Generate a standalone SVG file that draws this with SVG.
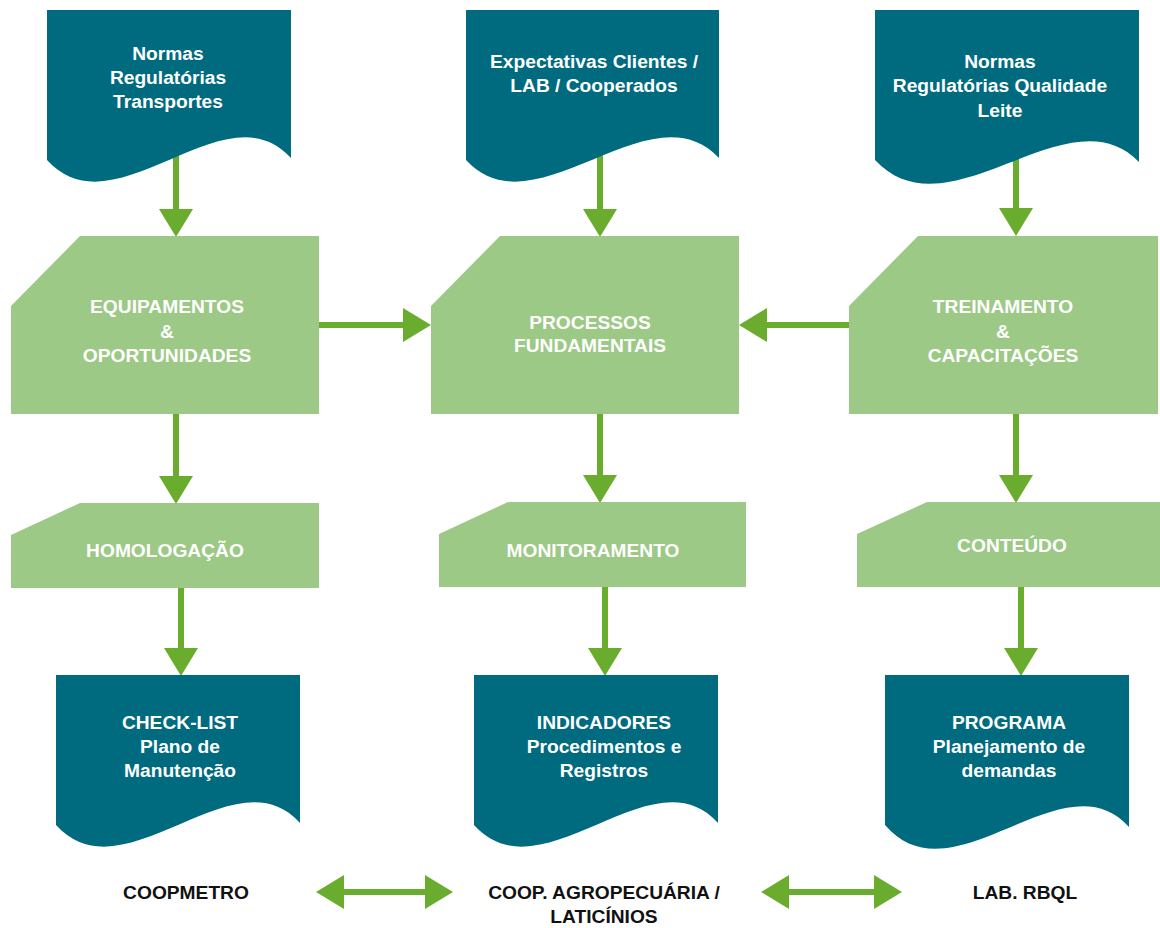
<svg xmlns="http://www.w3.org/2000/svg" width="1160" height="928" viewBox="0 0 1160 928">
  <style>
    .doc { fill: #006a7f; }
    .card { fill: #9cc985; }
    .stem { stroke: #6aad2e; stroke-width: 6; fill: none; }
    .lbl { font-family: "Liberation Sans", Arial, sans-serif; font-weight: bold; font-size: 19.2px; fill: #ffffff; text-anchor: middle; }
    .foot { font-family: "Liberation Sans", Arial, sans-serif; font-weight: bold; font-size: 19.2px; fill: #111111; text-anchor: middle; }
  </style>
  <defs>
    <marker id="head" markerUnits="userSpaceOnUse" markerWidth="28" markerHeight="34" refX="0" refY="17" orient="auto-start-reverse" viewBox="0 0 28 34">
      <path d="M0,0 L28,17 L0,34 Z" fill="#6aad2e"/>
    </marker>
  </defs>

  <rect width="1160" height="928" fill="#ffffff"/>

  <!-- connectors -->
  <g id="connectors">
    <line class="stem" x1="176" y1="140" x2="176" y2="209" marker-end="url(#head)"/>
    <line class="stem" x1="600" y1="140" x2="600" y2="209" marker-end="url(#head)"/>
    <line class="stem" x1="1016" y1="140" x2="1016" y2="208" marker-end="url(#head)"/>

    <line class="stem" x1="176" y1="414" x2="176" y2="476" marker-end="url(#head)"/>
    <line class="stem" x1="600" y1="414" x2="600" y2="475" marker-end="url(#head)"/>
    <line class="stem" x1="1016" y1="414" x2="1016" y2="475" marker-end="url(#head)"/>

    <line class="stem" x1="181" y1="588" x2="181" y2="648" marker-end="url(#head)"/>
    <line class="stem" x1="605" y1="587" x2="605" y2="648" marker-end="url(#head)"/>
    <line class="stem" x1="1021" y1="587" x2="1021" y2="648" marker-end="url(#head)"/>

    <line class="stem" x1="319" y1="325" x2="403" y2="325" marker-end="url(#head)"/>
    <line class="stem" x1="849" y1="325" x2="767" y2="325" marker-end="url(#head)"/>

    <line class="stem" x1="344" y1="892" x2="425" y2="892" marker-start="url(#head)" marker-end="url(#head)"/>
    <line class="stem" x1="789" y1="892" x2="874" y2="892" marker-start="url(#head)" marker-end="url(#head)"/>
  </g>

  <!-- top inputs -->
  <g id="norm-transport">
    <path class="doc" d="M47,10 H291 V158 C225,85 115,235 47,160 Z"/>
    <text class="lbl"><tspan x="168" y="60">Normas</tspan><tspan x="168" y="84">Regulatórias</tspan><tspan x="168" y="108">Transportes</tspan></text>
  </g>
  <g id="client-expectations">
    <path class="doc" d="M466,10 H719 V158 C650,85 535,235 466,160 Z"/>
    <text class="lbl"><tspan x="594" y="68">Expectativas Clientes /</tspan><tspan x="594" y="92">LAB / Cooperados</tspan></text>
  </g>
  <g id="norm-milk">
    <path class="doc" d="M875,10 H1139 V162 C1068,89 949,239 875,160 Z"/>
    <text class="lbl"><tspan x="1000" y="68">Normas</tspan><tspan x="1000" y="92">Regulatórias Qualidade</tspan><tspan x="1000" y="117">Leite</tspan></text>
  </g>

  <!-- main processes -->
  <g id="equipment">
    <polygon class="card" points="80,236 319,236 319,414 11,414 11,306"/>
    <text class="lbl"><tspan x="167" y="313">EQUIPAMENTOS</tspan><tspan x="167" y="338">&amp;</tspan><tspan x="167" y="362">OPORTUNIDADES</tspan></text>
  </g>
  <g id="core-processes">
    <polygon class="card" points="500,236 739,236 739,414 431,414 431,306"/>
    <text class="lbl"><tspan x="590" y="329">PROCESSOS</tspan><tspan x="590" y="352">FUNDAMENTAIS</tspan></text>
  </g>
  <g id="training">
    <polygon class="card" points="918,236 1158,236 1158,414 849,414 849,306"/>
    <text class="lbl"><tspan x="1003" y="313">TREINAMENTO</tspan><tspan x="1003" y="338">&amp;</tspan><tspan x="1003" y="362">CAPACITAÇÕES</tspan></text>
  </g>

  <!-- secondary steps -->
  <g id="homologation">
    <polygon class="card" points="80,503 319,503 319,588 11,588 11,535"/>
    <text class="lbl" x="165" y="557">HOMOLOGAÇÃO</text>
  </g>
  <g id="monitoring">
    <polygon class="card" points="508,502 746,502 746,587 439,587 439,534"/>
    <text class="lbl" x="593" y="557">MONITORAMENTO</text>
  </g>
  <g id="content">
    <polygon class="card" points="927,502 1160,502 1160,587 857,587 857,534"/>
    <text class="lbl" x="1012" y="552">CONTEÚDO</text>
  </g>

  <!-- outputs -->
  <g id="checklist">
    <path class="doc" d="M56,675 H300 V823 C234,750 124,900 56,825 Z"/>
    <text class="lbl"><tspan x="180" y="729">CHECK-LIST</tspan><tspan x="180" y="753">Plano de</tspan><tspan x="180" y="777">Manutenção</tspan></text>
  </g>
  <g id="indicators">
    <path class="doc" d="M474,675 H718 V823 C652,750 542,900 474,825 Z"/>
    <text class="lbl"><tspan x="604" y="729">INDICADORES</tspan><tspan x="604" y="753">Procedimentos e</tspan><tspan x="604" y="777">Registros</tspan></text>
  </g>
  <g id="program">
    <path class="doc" d="M885,675 H1129 V827 C1063,754 953,904 885,825 Z"/>
    <text class="lbl"><tspan x="1009" y="729">PROGRAMA</tspan><tspan x="1009" y="753">Planejamento de</tspan><tspan x="1009" y="777">demandas</tspan></text>
  </g>

  <!-- organisations -->
  <g id="coopmetro">
    <text class="foot" x="186" y="899">COOPMETRO</text>
  </g>
  <g id="cooperative">
    <text class="foot"><tspan x="604" y="899">COOP. AGROPECUÁRIA /</tspan><tspan x="604" y="923">LATICÍNIOS</tspan></text>
  </g>
  <g id="lab">
    <text class="foot" x="1025" y="899">LAB. RBQL</text>
  </g>
</svg>
